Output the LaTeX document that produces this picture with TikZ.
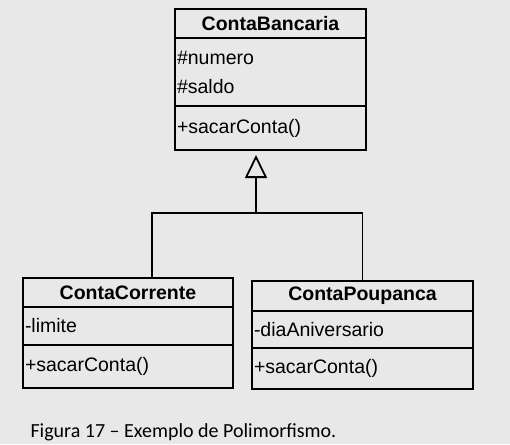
\documentclass[tikz,border=0pt]{standalone}
\usepackage{fontspec}
\setmainfont{Liberation Sans}
\newfontfamily\captionfont{Carlito}
\usetikzlibrary{arrows.meta,positioning}
\definecolor{bggray}{RGB}{232,232,232}
\tikzset{
  umlbox/.style={draw, line width=1.8pt, outer sep=0pt, inner xsep=2pt, inner ysep=0pt,
                 font=\fontsize{19.5}{29}\selectfont},
  classname/.style={umlbox, font=\bfseries\fontsize{19.5}{29}\selectfont, align=center},
  classpart/.style={umlbox, align=left},
  inherits/.style={line width=1.8pt, -{Triangle[open, length=23pt, width=22pt, line width=1.8pt]}},
  link/.style={line width=1.8pt}
}

\begin{document}
\begin{tikzpicture}[x=1pt,y=-1pt]
  \fill[bggray] (0,0) rectangle (510,444);
  \useasboundingbox (0,0) rectangle (510,444);

  % superclass
  \node[classname, text width=187pt, minimum height=29pt] (ban) at (270.5,23.5) {ContaBancaria};
  \node[classpart, text width=187pt, minimum height=68pt, below=0pt of ban] (banA) {\#numero\\\#saldo};
  \node[classpart, text width=187pt, minimum height=44pt, below=0pt of banA] (banM) {+sacarConta()};

  % subclasses
  \node[classname, text width=206pt, minimum height=29pt] (cc) at (128,292.5) {ContaCorrente};
  \node[classpart, text width=206pt, minimum height=38pt, below=0pt of cc] (ccA) {-limite};
  \node[classpart, text width=206pt, minimum height=43pt, below=0pt of ccA] (ccM) {+sacarConta()};

  \node[classname, text width=217pt, minimum height=30pt] (cp) at (362.5,296) {ContaPoupanca};
  \node[classpart, text width=217pt, minimum height=37pt, below=0pt of cp] (cpA) {-diaAniversario};
  \node[classpart, text width=217pt, minimum height=41pt, below=0pt of cpA] (cpM) {+sacarConta()};

  % generalization
  \coordinate (tip) at (256,155);
  \coordinate (fork) at (256,213);
  \draw[inherits] (fork) -- (tip);
  \draw[link] ([xshift=24pt]cc.north) |- (fork) -| (cp.north);

  \node[anchor=base west, font=\captionfont\fontsize{20}{24}\selectfont] (cap) at (27,437)
    {Figura 17 – Exemplo de Polimorfismo.};
\end{tikzpicture}
\end{document}
